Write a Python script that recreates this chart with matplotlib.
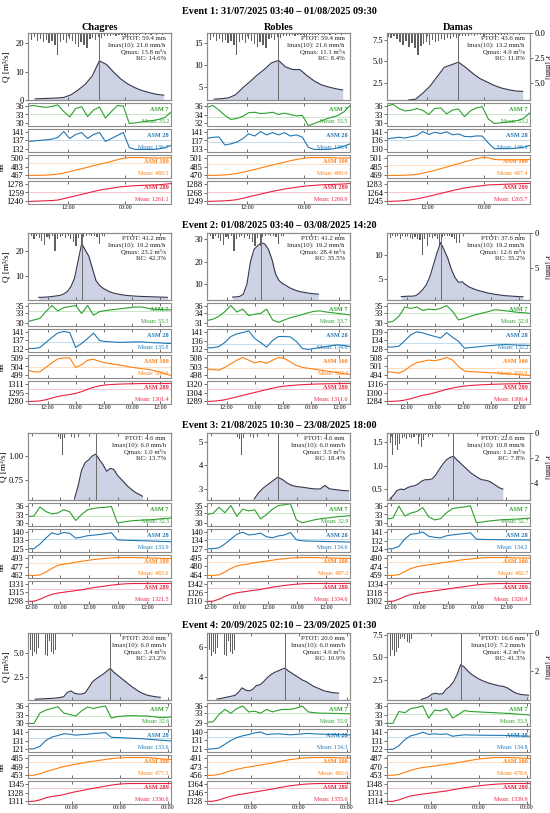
import numpy as np
import pandas as pd
import matplotlib
matplotlib.use("Agg")
import matplotlib.pyplot as plt
import matplotlib.dates as mdates
from matplotlib.ticker import StrMethodFormatter

plt.rcParams['font.family'] = ['Liberation Serif', 'DejaVu Serif']
plt.rcParams['axes.linewidth'] = 0.8

# ---------------- data ----------------
sites = ["Chagres", "Robles", "Damas"]
event_titles = [
    "Event 1: 31/07/2025 03:40 \u2013 01/08/2025 09:30",
    "Event 2: 01/08/2025 03:40 \u2013 03/08/2025 14:20",
    "Event 3: 21/08/2025 10:30 \u2013 23/08/2025 18:00",
    "Event 4: 20/09/2025 02:10 \u2013 23/09/2025 01:30",
]
window_start = ["2025-07-31 03:40", "2025-08-01 03:40", "2025-08-21 10:30", "2025-09-20 02:10"]
window_end = ["2025-08-01 09:30", "2025-08-03 16:30", "2025-08-23 22:00", "2025-09-23 01:30"]
tick_hours = [[0, 12], [0, 12], [0, 12], [0]]

# stats boxes
ptot = [[59.4, 59.4, 43.6], [41.2, 41.2, 37.6], [4.6, 4.6, 22.6], [20.0, 20.0, 16.6]]
imax10 = [[21.6, 21.6, 13.2], [19.2, 19.2, 19.2], [6.0, 6.0, 10.8], [6.0, 6.0, 7.2]]
qmax = [[13.8, 11.1, 4.9], [23.2, 28.4, 12.6], [1.0, 3.5, 1.2], [3.4, 4.6, 4.2]]
rc = [[14.6, 8.4, 11.8], [42.3, 35.5, 35.2], [13.7, 18.4, 7.8], [23.2, 10.9, 41.3]]

# discharge, hours after window start (first, last sample)
q_span = [[(1.5, 28.3), (1.5, 28.3), (4.5, 28.3)],
          [(4.6, 59.3), (10.9, 47.4), (6.1, 57.8)],
          [(19.3, 47.6), (19.6, 58.9), (1.2, 48.2)],
          [(3.6, 66.0), (5.0, 65.6), (17.1, 70.6)]]

q_e1_cha = [0.4, 0.5, 0.6, 0.7, 0.9, 1.8, 3.5, 5.5, 8.5, 13.8, 12.5, 9.8, 7.4, 5.6, 4.3, 3.3, 2.6, 2.0, 1.7]
q_e1_rob = [2.2, 2.3, 2.5, 3.2, 4.8, 6.2, 7.7, 9.0, 10.5, 11.1, 9.6, 9.0, 9.0, 7.6, 6.4, 5.5, 5.0, 4.6, 4.3]
q_e1_dam = [0.5, 0.6, 1.3, 2.1, 3.2, 4.3, 4.6, 4.9, 4.3, 3.6, 3.0, 2.6, 2.2, 1.9, 1.7, 1.55, 1.5]

q_e2_cha = [1.1, 1.1, 1.2, 1.3, 1.5, 1.7, 1.9, 2.5, 3.5, 5.5, 9.0, 16.0, 23.2, 20.5, 18.0, 13.0, 8.0, 6.0,
            4.8, 4.0, 3.3, 2.8, 2.5, 2.2, 2.0, 1.8, 1.7, 1.6, 1.5, 1.45, 1.4, 1.35, 1.3, 1.25, 1.2, 1.15, 1.1]
q_e2_rob = [4.2, 4.3, 4.5, 5.5, 10.0, 20.0, 25.5, 27.0, 28.4, 27.8, 25.5, 21.0, 14.5, 11.5, 10.2, 9.3, 8.3,
            7.6, 7.0, 6.6, 6.3, 6.0, 5.8, 5.6, 5.5]
q_e2_dam = [1.3, 1.35, 1.4, 1.4, 1.5, 2.0, 2.8, 3.8, 5.5, 8.0, 10.5, 12.6, 11.0, 9.3, 7.0, 5.3, 4.3, 4.4, 3.8,
            3.3, 3.0, 2.7, 2.5, 2.3, 2.1, 1.95, 1.8, 1.7, 1.6, 1.5, 1.45, 1.4, 1.35, 1.3, 1.3]

q_e3_cha = [0.55, 0.68, 0.85, 0.93, 0.96, 1.00, 1.02, 0.96, 0.91, 0.84, 0.87, 0.86, 0.80, 0.76, 0.72, 0.68,
            0.65, 0.62, 0.60, 0.58]
q_e3_rob = [2.57, 2.85, 3.05, 3.2, 3.35, 3.5, 3.4, 3.25, 3.15, 3.1, 3.08, 3.05, 3.02, 3.0, 3.0, 3.15, 3.0,
            2.98, 2.95, 2.93, 2.92]
q_e3_dam = [0.29, 0.37, 0.47, 0.5, 0.49, 0.53, 0.56, 0.57, 0.61, 0.67, 0.7, 0.7, 0.72, 0.8, 0.92, 1.03, 1.12,
            1.17, 1.2, 1.12, 1.05, 0.98, 0.91, 0.84, 0.79, 0.74, 0.7, 0.69, 0.67, 0.63, 0.58, 0.53, 0.5]

q_e4_cha = [0.18, 0.2, 0.22, 0.24, 0.26, 0.28, 0.32, 0.36, 0.45, 0.9, 1.05, 0.8, 0.72, 0.72, 0.85, 1.4, 2.0,
            2.3, 2.55, 2.8, 3.1, 3.4, 3.0, 2.7, 2.4, 2.1, 1.8, 1.5, 1.25, 1.0, 0.8, 0.65, 0.55, 0.48, 0.42, 0.38]
q_e4_rob = [2.56, 2.6, 2.65, 2.7, 2.75, 2.8, 3.0, 3.3, 3.15, 3.1, 3.2, 3.45, 3.5, 3.7, 3.95, 4.15, 4.3, 4.4,
            4.5, 4.6, 4.4, 4.25, 4.1, 3.95, 3.8, 3.7, 3.55, 3.4, 3.3, 3.2, 3.1, 3.05, 3.0, 2.97, 2.95]
q_e4_dam = [0.35, 0.5, 0.65, 0.95, 1.05, 0.95, 1.0, 1.5, 1.8, 2.3, 3.1, 4.2, 3.95, 3.5, 3.15, 2.9, 2.65, 2.45,
            2.3, 2.15, 2.05, 1.95, 1.85, 1.8, 1.65, 1.4, 1.15, 1.0, 0.9, 0.86, 0.83]

q_lim = [[(0, 23.6), (2.0, 17.4), (0.5, 8.3)],
         [(0, 27.5), (2.9, 32.7), (0.6, 14.6)],
         [(0.54, 1.24), (2.53, 5.38), (0.27, 1.69)],
         [(0.1, 7.1), (2.5, 6.9), (0.3, 7.7)]]
q_ticks = [[[0, 10, 20], [5, 10, 15], [2.5, 5.0, 7.5]],
           [[10, 20], [10, 20, 30], [5, 10]],
           [[0.75, 1.00], [3, 4, 5], [0.5, 1.0, 1.5]],
           [[2.5, 5.0], [4, 6], [2.5, 5.0, 7.5]]]

# rainfall (mm per step); gauge A serves Chagres and Robles, gauge B serves Damas
rain_span = [[(0.15, 28.7), (0.2, 29.5)],
             [(0.3, 32.7), (0.4, 30.8)],
             [(12.5, 21.1), (0.4, 19.1)],
             [(0.3, 13.6), (0.5, 12.1)]]
rain_e1_a = [0.5, 0.7, 0.4, 0.8, 0.6, 0.9, 0.7, 1.0, 0.8, 1.2, 2.2, 0.9, 0.7, 1.0, 0.6, 0.8, 1.1, 1.4, 0.9,
             1.2, 1.5, 0.6, 0.5, 0.7, 0.4, 0.5, 0.3, 0.35, 0.3, 0.25, 0.3, 0.2, 0.25, 0.2, 0.3, 0.2, 0.2, 0.25,
             0.2, 0.15, 0.2, 0.15, 0.2, 0.15, 0.2, 0.15, 0.2, 0.15]
rain_e1_b = [0.4, 0.5, 0.3, 0.6, 0.9, 1.2, 0.8, 1.4, 1.0, 1.5, 2.2, 1.3, 1.1, 0.9, 1.2, 0.7, 0.9, 0.8, 0.6,
             0.7, 0.5, 0.6, 0.4, 0.5, 0.3, 0.35, 0.3, 0.3, 0.25, 0.3, 0.25, 0.2, 0.3, 0.2, 0.25, 0.2, 0.3, 0.2,
             0.25, 0.2, 0.2, 0.15, 0.2, 0.15, 0.2, 0.15, 0.1, 0.1]
rain_e2_a = [0.6, 0.4, 0.8, 0.5, 0.7, 1.2, 1.7, 0.6, 0.9, 0.5, 2.6, 0.8, 0.6, 0.4, 0.7, 0.5, 0.9, 1.3, 1.8,
             0.7, 1.9, 0.6, 0.4, 0.3, 0.5, 0.4, 0.6, 1.6, 0.4, 0.3]
rain_e2_b = [0.5, 0.7, 0.4, 0.6, 0.5, 0.8, 0.4, 0.6, 0.5, 0.7, 0.9, 0.6, 0.8, 1.0, 3.1, 0.8, 1.9, 0.6, 0.7,
             0.5, 0.9, 1.7, 0.6, 0.5, 0.4, 0.5, 0.6, 0.8, 1.4, 1.5]
rain_e3_a = [0.3, 0.5, 1.75, 0.4, 0.0, 0.0, 0.3, 0.4, 0.0, 0.3]
rain_e3_b = [1.2, 0.8, 1.75, 1.0, 1.4, 0.9, 0.4, 0.3, 0.5, 0.3, 0.4, 0.3, 0.2, 0.9, 1.1, 0.6, 0.2, 0.3, 0.2, 0.3]
rain_e4_a = [1.1, 0.9, 1.2, 1.0, 1.1, 0.8, 0.6, 0.3, 0.0, 1.15, 1.2, 0.4, 1.0, 1.1, 0.9]
rain_e4_b = [1.1, 1.2, 0.9, 1.2, 1.0, 0.8, 0.3, 0.2, 0.3, 0.45, 0.5, 0.3]
rain_max = [6.7, 9.6, 5.4, 3.5]
rain_ticks = [[0.0, 2.5, 5.0], [0, 5], [0, 2, 4], [0, 2]]

# soil moisture (ASM 7 / 28 / 100 / 289 mm), evenly spaced over the window
a7_e1_cha = [35.8, 36.0, 35.6, 35.4, 35.7, 36.2, 34.0, 32.2, 35.0, 35.6, 32.3, 34.5, 35.5, 31.8, 34.0, 36.0,
             35.8, 30.0, 30.2, 30.5, 30.8, 31.0, 31.4, 32.0, 33.8]
a28_e1_cha = [136.0, 136.3, 136.6, 136.8, 137.2, 138.0, 141.0, 137.5, 139.5, 140.5, 137.5, 139.5, 140.5, 136.0,
              137.5, 139.0, 140.5, 133.0, 132.0, 132.0, 132.0, 132.0, 132.3, 133.0, 134.0]
a100_e1_cha = [467.0, 467.2, 467.4, 467.7, 468.3, 469.5, 471.5, 474, 477, 479.5, 482, 485, 487.5, 490, 493, 496,
               498.5, 500, 500, 499.8, 499.5, 499.3, 499.0, 499.2, 499.5]
a289_e1_cha = [1240, 1240.5, 1241, 1241.5, 1242, 1243, 1246, 1249, 1252, 1255, 1258, 1261, 1264, 1266, 1268, 1270,
               1271.5, 1272.5, 1273.5, 1274, 1274.5, 1275, 1275.5, 1276.5, 1278]
a7_e1_rob = [35.6, 36.0, 35.0, 33.8, 32.9, 33.1, 33.6, 34.4, 34.5, 34.2, 34.3, 34.5, 34.0, 34.3, 34.0, 33.7, 33.8,
             31.5, 32.0, 32.5, 33.0, 33.4, 33.8, 34.6, 36.0]
a28_e1_rob = [138.0, 138.4, 138.6, 135.0, 135.5, 136.3, 137.8, 140.0, 139.0, 141.0, 139.5, 140.5, 139.5, 140.5,
              139.0, 139.5, 138.5, 134.0, 133.0, 133.0, 133.0, 133.2, 133.8, 134.5, 135.5]
a100_e1_rob = [470, 470.2, 470.5, 471, 472, 473.5, 475.5, 478, 480.5, 483, 485.5, 488, 490.5, 493, 495.5, 497.5,
               499.5, 500.5, 501, 501, 500.8, 500.5, 500, 500, 500.5]
a289_e1_rob = [1249, 1249.5, 1250, 1250.5, 1251.5, 1253, 1256, 1259, 1262, 1265, 1268, 1271, 1273.5, 1276, 1278,
               1280, 1281.5, 1283, 1284, 1285, 1285.5, 1286, 1286.5, 1287, 1288]
a7_e1_dam = [35.8, 36.4, 35.0, 34.2, 34.4, 35.0, 34.4, 33.0, 35.0, 35.2, 33.2, 34.5, 34.8, 32.3, 34.2, 35.2, 35.6,
             31.5, 30.0, 30.2, 30.4, 30.7, 31.0, 31.8, 33.6]
a28_e1_dam = [136.5, 137.0, 137.5, 137.0, 137.8, 138.5, 141.0, 139.2, 140.5, 139.8, 140.8, 139.0, 139.5, 138.0,
              137.8, 138.3, 138.2, 134.0, 130.5, 130.5, 130.5, 130.6, 131.0, 131.5, 132.5]
a100_e1_dam = [469, 469, 469.2, 469.5, 470, 471, 473, 475.5, 478, 481, 484, 487, 490, 493, 496, 499, 501, 500.5,
               497.5, 497, 497, 497, 497, 497, 497.5]
a289_e1_dam = [1245, 1245.5, 1246, 1247, 1248.5, 1250.5, 1253, 1256, 1259, 1262, 1265, 1268, 1271, 1273.5, 1275.5,
               1277, 1278.5, 1280, 1280.5, 1281, 1281.5, 1282, 1282.5, 1283, 1283]

a7_e2_cha = [30.5, 31.0, 31.4, 33.3, 35.0, 33.5, 34.4, 34.7, 35.0, 32.8, 35.0, 32.3, 33.3, 33.6, 33.8, 34.0, 34.2,
             34.4, 34.6, 34.6, 34.3, 34.0, 33.9, 33.8, 33.8]
a28_e2_cha = [132.5, 132.5, 133.0, 135.5, 138.0, 140.3, 141.0, 140.5, 133.0, 135.0, 137.5, 140.2, 136.5, 136.0,
              135.8, 135.6, 135.6, 135.7, 135.8, 135.8, 135.6, 135.4, 135.3, 135.1, 135.0]
a100_e2_cha = [502.0, 501.0, 501.0, 503.5, 506.0, 508.3, 508.8, 508.8, 503.5, 505.0, 507.5, 508.0, 506.8, 506.0,
               505.5, 505.0, 504.5, 503.8, 503.3, 502.8, 502.5, 501.8, 501.0, 500.0, 499.0]
a289_e2_cha = [1280, 1280.3, 1281, 1283, 1286, 1288.5, 1290.5, 1292, 1294, 1297, 1301, 1304.5, 1307, 1308.5,
               1309.3, 1309.8, 1310.2, 1310.5, 1310.7, 1310.9, 1311, 1311, 1311, 1311, 1311]
a7_e2_rob = [31.8, 32.2, 33.0, 34.3, 36.0, 34.2, 35.0, 33.2, 33.6, 33.8, 35.0, 32.0, 31.3, 32.0, 32.6, 33.0, 33.5,
             34.0, 34.4, 34.5, 34.2, 34.0, 33.8, 33.6, 33.4]
a28_e2_rob = [132.8, 132.9, 133.5, 135.5, 138.5, 139.8, 140.5, 141.3, 137.5, 135.5, 133.2, 136.5, 138.5, 138.5,
              138.3, 136.0, 132.5, 132.0, 132.5, 133.0, 133.5, 134.0, 134.3, 134.0, 133.5]
a100_e2_rob = [501.5, 501.2, 501.0, 502.5, 504.5, 506.5, 508.0, 506.5, 505.0, 505.8, 504.8, 506.5, 508.0, 507.5,
               505.5, 503.5, 502.5, 502.0, 501.5, 501.0, 500.5, 500.0, 499.5, 499.0, 498.5]
a289_e2_rob = [1289, 1289.5, 1290.5, 1292, 1294.5, 1297, 1299.5, 1302, 1304.5, 1307, 1309.5, 1312, 1314, 1315.5,
               1316.5, 1317.3, 1318, 1318.5, 1319, 1319.3, 1319.5, 1319.7, 1319.8, 1320, 1320]
a7_e2_dam = [30.3, 30.6, 32.0, 34.6, 34.2, 34.6, 33.6, 34.0, 33.8, 34.2, 35.0, 33.4, 31.0, 31.4, 32.0, 32.5, 32.9,
             33.3, 33.8, 33.7, 33.5, 33.3, 33.1, 33.0, 32.8]
a28_e2_dam = [129.5, 129.5, 130.0, 133.5, 137.0, 138.8, 138.2, 137.0, 136.0, 135.0, 138.3, 135.5, 133.0, 128.8,
              129.2, 129.5, 129.9, 130.3, 130.6, 130.9, 131.0, 130.9, 130.7, 130.6, 130.5]
a100_e2_dam = [497.0, 496.5, 495.8, 498.0, 501.5, 504.0, 505.0, 506.0, 505.5, 506.5, 508.0, 506.0, 501.0, 497.5,
               497.0, 496.8, 496.5, 496.2, 496.0, 495.7, 495.3, 495.0, 494.6, 494.3, 494.0]
a289_e2_dam = [1284, 1284.3, 1285, 1286.5, 1289, 1292, 1295, 1297, 1299.5, 1302.5, 1305.5, 1308, 1310, 1311.5,
               1312.5, 1313.2, 1313.8, 1314.3, 1314.7, 1315, 1315.3, 1315.5, 1315.7, 1315.9, 1316]

a7_e3_cha = [32.3, 32.5, 35.5, 34.0, 33.2, 33.5, 34.6, 33.9, 31.0, 33.0, 34.6, 35.0, 35.3, 35.4, 35.7, 30.2, 30.5,
             30.8, 31.0, 31.1, 31.2, 31.3, 31.5, 31.7, 31.8]
a28_e3_cha = [125.5, 125.7, 129.5, 134.5, 139.0, 137.5, 139.2, 138.5, 134.5, 135.3, 136.5, 137.0, 137.5, 138.2,
              139.0, 133.0, 132.8, 132.6, 132.5, 132.3, 132.2, 132.0, 131.8, 131.7, 131.5]
a100_e3_cha = [462, 462, 463, 468, 474, 479.5, 481.5, 483, 485, 486.5, 488, 489.5, 490.5, 491.5, 492.3, 492.8,
               493, 493, 492.8, 492.5, 492.3, 492, 491.7, 491.4, 491]
a289_e3_cha = [1298, 1298.5, 1302, 1307, 1311, 1313.5, 1315, 1316.5, 1318, 1319.5, 1321.5, 1323.5, 1325, 1326.5,
               1328, 1329.2, 1330.2, 1330.8, 1331, 1331, 1331, 1331, 1331, 1331, 1331]
a7_e3_rob = [32.5, 32.8, 34.5, 33.0, 35.0, 32.0, 34.0, 33.5, 33.8, 31.3, 32.5, 34.0, 35.0, 35.2, 35.5, 31.0, 30.2,
             30.6, 31.0, 31.3, 31.5, 31.7, 31.9, 32.0, 32.2]
a28_e3_rob = [127.5, 127.6, 128.2, 131.0, 134.5, 138.0, 139.5, 137.5, 138.0, 138.8, 136.2, 135.5, 136.8, 137.5,
              139.3, 134.0, 133.3, 133.1, 133.0, 132.9, 132.8, 132.7, 132.6, 132.5, 132.4]
a100_e3_rob = [464, 464, 465, 470, 476, 480.5, 482.5, 484, 486, 487.5, 489, 490.5, 492, 493, 494, 494.5, 495, 495,
               494.8, 494.5, 494.3, 494, 493.8, 493.5, 493.3]
a289_e3_rob = [1310, 1310.5, 1314, 1319, 1323, 1325.5, 1327, 1328.5, 1330, 1331.5, 1333.5, 1335.5, 1337, 1338.5,
               1339.8, 1340.8, 1341.5, 1342, 1342, 1342, 1342, 1342, 1342, 1342, 1342]
a7_e3_dam = [31.5, 31.8, 35.8, 32.5, 33.5, 34.0, 35.3, 32.2, 31.2, 31.6, 33.6, 35.0, 35.3, 35.5, 35.9, 30.3, 30.5,
             30.8, 31.0, 31.2, 31.3, 31.4, 31.5, 31.7, 31.8]
a28_e3_dam = [124.5, 124.8, 127.0, 134.0, 138.5, 139.0, 140.5, 136.5, 135.5, 135.0, 137.0, 137.8, 138.5, 139.0,
              139.8, 133.8, 133.5, 133.4, 133.3, 133.2, 133.2, 133.1, 133.1, 133.0, 133.0]
a100_e3_dam = [459, 459.2, 460.5, 466, 471, 474, 476, 477.5, 479, 480.5, 482, 483.5, 485, 486.5, 487.5, 488.5,
               489.3, 489.8, 490, 490, 489.8, 489.5, 489.3, 489.1, 489]
a289_e3_dam = [1302, 1302.5, 1306, 1311, 1314.5, 1316.5, 1318, 1319.5, 1321, 1322.5, 1324, 1325.5, 1327, 1328.5,
               1330, 1331.5, 1332.5, 1333.3, 1333.8, 1334, 1334, 1334, 1334, 1334, 1334]

a7_e4_cha = [30.0, 30.0, 33.5, 34.5, 35.0, 35.6, 33.5, 33.0, 32.5, 34.2, 35.5, 35.0, 35.5, 35.8, 31.8, 32.3, 32.5,
             32.6, 32.6, 32.5, 32.5, 32.3, 32.0, 32.0, 32.2]
a28_e4_cha = [121.5, 121.8, 124.5, 131.0, 134.8, 136.5, 138.5, 138.0, 137.0, 137.5, 138.0, 138.8, 139.3, 139.8,
              134.5, 134.3, 134.0, 133.7, 133.3, 133.0, 132.5, 132.0, 131.5, 131.0, 130.5]
a100_e4_cha = [453, 453.5, 456, 460, 463, 466, 469, 471, 473, 475, 477, 478.5, 480, 481.5, 483, 484, 484.7, 485,
               485, 485, 484.8, 484, 483, 482, 481.5]
a289_e4_cha = [1311, 1311.5, 1314, 1318, 1320.5, 1322, 1324, 1327, 1329.5, 1331.5, 1334, 1336, 1338, 1340, 1342,
               1343.5, 1344.5, 1345, 1345, 1345, 1345, 1345, 1345, 1345, 1345]
a7_e4_rob = [29.5, 29.6, 32.5, 34.5, 33.0, 34.8, 35.8, 33.5, 33.8, 33.0, 34.5, 33.5, 34.2, 34.5, 34.5, 35.0, 35.8,
             33.5, 33.2, 33.0, 33.0, 32.9, 32.9, 32.8, 32.8]
a28_e4_rob = [121.5, 121.6, 122.5, 126.5, 130.5, 133.5, 135.5, 136.8, 138.5, 139.5, 136.8, 137.3, 137.6, 137.0,
              136.5, 137.0, 137.5, 138.0, 137.5, 137.3, 137.0, 136.9, 136.8, 136.6, 136.5]
a100_e4_rob = [456, 456.5, 458, 461.5, 465, 468, 470.5, 472.5, 474.5, 476.5, 478.5, 480.5, 483, 485, 487, 488.5,
               489.8, 490.5, 491, 491, 491, 490.8, 490.5, 490.3, 490]
a289_e4_rob = [1328, 1328.5, 1331, 1335, 1338.5, 1341, 1343, 1345, 1347, 1349, 1351, 1353, 1355.5, 1357.5, 1359.5,
               1361, 1362.3, 1363.2, 1363.7, 1364, 1364, 1364, 1364, 1364, 1364]
a7_e4_dam = [30.0, 30.1, 34.0, 33.6, 35.0, 35.3, 35.9, 31.8, 34.5, 34.2, 35.0, 31.8, 33.0, 34.3, 34.0, 33.9, 33.8,
             33.7, 33.6, 33.5, 33.4, 33.3, 33.1, 33.0, 32.8]
a28_e4_dam = [122.0, 122.2, 126.0, 132.5, 136.5, 138.0, 140.2, 138.0, 138.5, 138.0, 138.5, 136.0, 136.8, 137.5,
              137.3, 137.2, 137.1, 137.0, 137.0, 136.9, 136.8, 136.6, 136.4, 136.2, 136.0]
a100_e4_dam = [453, 453.5, 455, 459, 463, 466, 468, 469.5, 471, 472.5, 474, 475.5, 477.5, 479.5, 481.5, 483.5, 485,
               486, 486.8, 487, 487, 486.8, 486.3, 485.7, 485]
a289_e4_dam = [1314, 1314.3, 1317, 1321, 1324.5, 1326.5, 1328, 1329.5, 1331, 1332.5, 1334, 1336, 1338, 1340,
               1341.5, 1343, 1344.5, 1345.5, 1346.5, 1347.2, 1347.7, 1348, 1348, 1348, 1348]

asm_means = [[[33.2, 136.7, 489.5, 1261.1], [33.5, 136.4, 489.0, 1269.9], [33.2, 136.1, 487.4, 1265.7]],
             [[33.5, 135.8, 503.6, 1301.4], [33.7, 134.6, 502.4, 1311.0], [32.9, 132.2, 499.9, 1306.4]],
             [[32.5, 133.9, 483.6, 1321.5], [32.9, 134.6, 487.2, 1334.6], [32.7, 134.2, 482.7, 1326.9]],
             [[32.6, 133.6, 477.3, 1336.6], [33.0, 134.3, 482.0, 1355.0], [33.3, 134.8, 478.6, 1339.9]]]
asm_ticks = [[[[30, 33, 36], [132, 137, 141], [467, 483, 500], [1240, 1259, 1278]],
              [[32, 34, 36], [133, 137, 141], [470, 485, 501], [1249, 1268, 1288]],
              [[30, 33, 36], [130, 136, 141], [469, 485, 501], [1245, 1264, 1283]]],
             [[[30, 33, 35], [132, 137, 141], [499, 504, 509], [1280, 1295, 1311]],
              [[31, 34, 36], [132, 136, 141], [498, 503, 508], [1289, 1304, 1320]],
              [[30, 33, 35], [128, 134, 139], [494, 501, 508], [1284, 1300, 1316]]],
             [[[30, 33, 36], [125, 133, 140], [462, 477, 493], [1298, 1315, 1331]],
              [[30, 33, 35], [127, 134, 140], [464, 480, 495], [1310, 1326, 1342]],
              [[30, 33, 36], [124, 132, 141], [459, 474, 490], [1302, 1318, 1334]]],
             [[[30, 33, 36], [121, 131, 141], [453, 469, 485], [1311, 1328, 1345]],
              [[29, 33, 36], [121, 131, 140], [456, 473, 491], [1328, 1346, 1364]],
              [[30, 33, 36], [122, 131, 141], [453, 470, 487], [1314, 1331, 1348]]]]

asm_names = ["ASM 7", "ASM 28", "ASM 100", "ASM 289"]
asm_colors = ["#2ca02c", "#1f77b4", "#ff7f0e", "#e8213f"]

q_data = [[q_e1_cha, q_e1_rob, q_e1_dam], [q_e2_cha, q_e2_rob, q_e2_dam],
          [q_e3_cha, q_e3_rob, q_e3_dam], [q_e4_cha, q_e4_rob, q_e4_dam]]
rain_data = [[rain_e1_a, rain_e1_b], [rain_e2_a, rain_e2_b], [rain_e3_a, rain_e3_b], [rain_e4_a, rain_e4_b]]
asm_data = [
    [[a7_e1_cha, a28_e1_cha, a100_e1_cha, a289_e1_cha], [a7_e1_rob, a28_e1_rob, a100_e1_rob, a289_e1_rob],
     [a7_e1_dam, a28_e1_dam, a100_e1_dam, a289_e1_dam]],
    [[a7_e2_cha, a28_e2_cha, a100_e2_cha, a289_e2_cha], [a7_e2_rob, a28_e2_rob, a100_e2_rob, a289_e2_rob],
     [a7_e2_dam, a28_e2_dam, a100_e2_dam, a289_e2_dam]],
    [[a7_e3_cha, a28_e3_cha, a100_e3_cha, a289_e3_cha], [a7_e3_rob, a28_e3_rob, a100_e3_rob, a289_e3_rob],
     [a7_e3_dam, a28_e3_dam, a100_e3_dam, a289_e3_dam]],
    [[a7_e4_cha, a28_e4_cha, a100_e4_cha, a289_e4_cha], [a7_e4_rob, a28_e4_rob, a100_e4_rob, a289_e4_rob],
     [a7_e4_dam, a28_e4_dam, a100_e4_dam, a289_e4_dam]],
]

# ---------------- layout (pixels) ----------------
FW, FH = 550.0, 813.0
col_left = [28, 207, 387]
col_w = 143
spine_col = "#8c8c8c"


def rect(left, top, width, height):
    return [left / FW, 1 - (top + height) / FH, width / FW, height / FH]


def style(ax):
    for sp in ax.spines.values():
        sp.set_color(spine_col)
    ax.tick_params(axis="both", labelsize=6.1, length=2, width=0.6, pad=1, color="#555555")
    ax.tick_params(axis="x", direction="in", top=True, labelsize=4.3)


fig = plt.figure(figsize=(5.5, 8.13), dpi=100)

for i in range(4):
    base = 200 * i
    t0 = mdates.date2num(pd.Timestamp(window_start[i]))
    t1 = mdates.date2num(pd.Timestamp(window_end[i]))
    title_y = 12 if i == 0 else 25 + base
    fig.text(0.508, 1 - title_y / FH, event_titles[i], ha="center", va="center",
             fontsize=7.3, fontweight="bold")

    for j in range(3):
        left = col_left[j]
        if i == 0:
            fig.text((left + col_w / 2) / FW, 1 - 27 / FH, sites[j], ha="center", va="center",
                     fontsize=7.4, fontweight="bold")

        # discharge + rainfall
        ax = fig.add_axes(rect(left, 33 + base, col_w, 67))
        q = np.array(q_data[i][j])
        a, b = q_span[i][j]
        tq = np.linspace(t0 + a / 24, t0 + b / 24, len(q))
        ax.fill_between(tq, q, 0, color="#c9cee3", alpha=0.9, lw=0)
        ax.plot(tq, q, color="#35354a", lw=0.8)
        ax.axvline(tq[np.argmax(q)], color="#6a6a6a", lw=0.7)
        ax.set_xlim(t0, t1)
        ax.set_ylim(*q_lim[i][j])
        ax.set_yticks(q_ticks[i][j])
        style(ax)
        ax.xaxis.set_major_locator(mdates.HourLocator(byhour=tick_hours[i]))
        ax.tick_params(axis="x", labelbottom=False)
        if j == 0:
            ax.set_ylabel("Q [m\u00b3/s]", fontsize=6.6)
            ax.yaxis.set_label_coords(-0.14 if i == 2 else -0.125, 0.5)

        g = 0 if j < 2 else 1
        r = np.array(rain_data[i][g])
        ra, rb = rain_span[i][g]
        tr = np.linspace(t0 + ra / 24, t0 + rb / 24, len(r))
        axr = ax.twinx()
        axr.bar(tr, r, width=(tr[1] - tr[0]) * 0.45, color="#606060", lw=0)
        axr.set_ylim(rain_max[i], 0)
        axr.set_xlim(t0, t1)
        for sp in axr.spines.values():
            sp.set_color(spine_col)
        if j == 2:
            axr.set_yticks(rain_ticks[i])
            axr.tick_params(axis="y", labelsize=6.1, length=2, width=0.6, pad=1, color="#555555")
            axr.set_ylabel("P [mm]", fontsize=5.8, rotation=270, va="center")
            axr.yaxis.set_label_coords(1.12, 0.5)
        else:
            axr.tick_params(axis="y", right=False, labelright=False)
        stats = (f"PTOT: {ptot[i][j]:.1f} mm\nImax(10): {imax10[i][j]:.1f} mm/h\n"
                 f"Qmax: {qmax[i][j]:.1f} m\u00b3/s\nRC: {rc[i][j]:.1f}%")
        axr.text(0.965, 0.95, stats, transform=axr.transAxes, ha="right", va="top", fontsize=4.9,
                 color="#222222")

        # soil moisture panels
        for k in range(4):
            axs = fig.add_axes(rect(left, 103 + base + 26 * k, col_w, 23))
            v = np.array(asm_data[i][j][k])
            ts = np.linspace(t0, t1, len(v))
            c = asm_colors[k]
            axs.axhline(asm_means[i][j][k], color=c, lw=0.6, alpha=0.3)
            axs.plot(ts, v, color=c, lw=0.8)
            tk = asm_ticks[i][j][k]
            pad = 0.14 * (tk[-1] - tk[0])
            axs.set_ylim(tk[0] - pad, tk[-1] + pad)
            axs.set_yticks(tk)
            axs.yaxis.set_major_formatter(StrMethodFormatter("{x:.0f}"))
            axs.set_xlim(t0, t1)
            style(axs)
            axs.xaxis.set_major_locator(mdates.HourLocator(byhour=tick_hours[i]))
            axs.xaxis.set_major_formatter(mdates.DateFormatter("%H:%M"))
            if k < 3:
                axs.tick_params(axis="x", labelbottom=False)
            axs.text(0.985, 0.72, asm_names[k], transform=axs.transAxes, ha="right", va="center",
                     fontsize=4.5, fontweight="bold", color=c)
            axs.text(0.985, 0.2, f"Mean: {asm_means[i][j][k]:.1f}", transform=axs.transAxes,
                     ha="right", va="center", fontsize=4.3, color=c)
            if j == 0 and k == 2:
                axs.set_ylabel("mm", fontsize=4)
                axs.yaxis.set_label_coords(-0.16, 0.5)

fig.savefig("out.png", dpi=100)
